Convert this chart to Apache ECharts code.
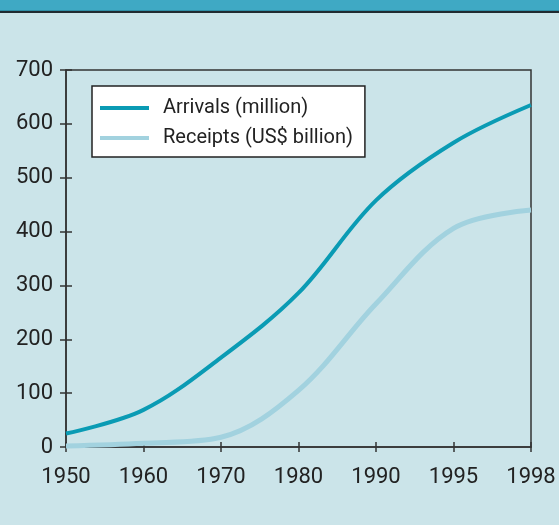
<!DOCTYPE html>
<html>
<head>
<meta charset="utf-8">
<script src="https://cdn.jsdelivr.net/npm/echarts@6/dist/echarts.min.js"></script>
<style>
  html, body { margin: 0; padding: 0; background: #cbe4e9; }
  #chart { width: 559px; height: 525px; }
</style>
</head>
<body>
<div id="chart"></div>
<script>
'use strict';
var years = ['1950', '1960', '1970', '1980', '1990', '1995', '1998'];
var arrivals = [25, 69, 166, 286, 458, 565, 635];
var receipts = [2, 7, 18, 105, 266, 406, 440];
var yTicks = { min: 0, max: 700, interval: 100 };

var font = "Roboto, 'Liberation Sans', sans-serif";
var axisColor = '#333';

var myChart = echarts.init(document.getElementById('chart'));
var option = {
  backgroundColor: '#cbe4e9',
  animation: false,
  textStyle: { fontFamily: font, color: '#2a2a2a' },
  graphic: [
    { type: 'rect', shape: { x: 0, y: 0, width: 559, height: 10 }, style: { fill: '#3fa9c4' } },
    { type: 'rect', shape: { x: 0, y: 10, width: 559, height: 1 }, style: { fill: '#2e8ea6' } },
    { type: 'rect', shape: { x: 0, y: 11, width: 559, height: 2 }, style: { fill: '#1f2b31' } }
  ],
  grid: {
    left: 66, right: 28, top: 70, bottom: 78,
    show: true, borderColor: axisColor, borderWidth: 1.5,
    backgroundColor: 'transparent'
  },
  legend: {
    orient: 'vertical',
    left: 92, top: 86,
    backgroundColor: '#fff',
    borderColor: '#222',
    borderWidth: 1.5,
    padding: [12, 12, 9, 8],
    itemWidth: 49,
    itemHeight: 4,
    itemGap: 10,
    icon: 'rect',
    textStyle: { fontSize: 20, fontFamily: font, color: '#222', padding: [0, 0, 0, 9] },
    data: ['Arrivals (million)', 'Receipts (US$ billion)']
  },
  xAxis: [{
    type: 'category',
    data: years,
    boundaryGap: false,
    axisLine: { lineStyle: { color: axisColor, width: 1.5 } },
    axisTick: { alignWithLabel: true, length: 5, lineStyle: { color: axisColor, width: 1.5 } },
    axisLabel: { fontSize: 22, margin: 19, color: '#222', fontFamily: font },
    splitLine: { show: false }
  }, {
    type: 'category',
    data: years,
    position: 'bottom',
    boundaryGap: false,
    axisLine: { show: false },
    axisTick: { inside: true, length: 5, lineStyle: { color: axisColor, width: 1.5 } },
    axisLabel: { show: false },
    splitLine: { show: false }
  }],
  yAxis: [{
    type: 'value',
    min: yTicks.min, max: yTicks.max, interval: yTicks.interval,
    axisLine: { show: true, lineStyle: { color: axisColor, width: 1.5 } },
    axisTick: { show: true, length: 6, lineStyle: { color: axisColor, width: 1.5 } },
    axisLabel: { fontSize: 22, margin: 13, color: '#222', fontFamily: font },
    splitLine: { show: false }
  }, {
    type: 'value',
    position: 'left',
    min: yTicks.min, max: yTicks.max, interval: yTicks.interval,
    axisLine: { show: false },
    axisTick: { show: true, inside: true, length: 6, lineStyle: { color: axisColor, width: 1.5 } },
    axisLabel: { show: false },
    splitLine: { show: false }
  }],
  series: [{
    name: 'Arrivals (million)',
    type: 'line',
    data: arrivals,
    smooth: 0.35,
    symbol: 'none',
    color: '#0a9bb4',
    lineStyle: { width: 4, color: '#0a9bb4' },
    z: 3
  }, {
    name: 'Receipts (US$ billion)',
    type: 'line',
    data: receipts,
    smooth: 0.35,
    symbol: 'none',
    color: '#a2d2df',
    lineStyle: { width: 5, color: '#a2d2df' },
    z: 2
  }]
};
myChart.setOption(option);
</script>
</body>
</html>
